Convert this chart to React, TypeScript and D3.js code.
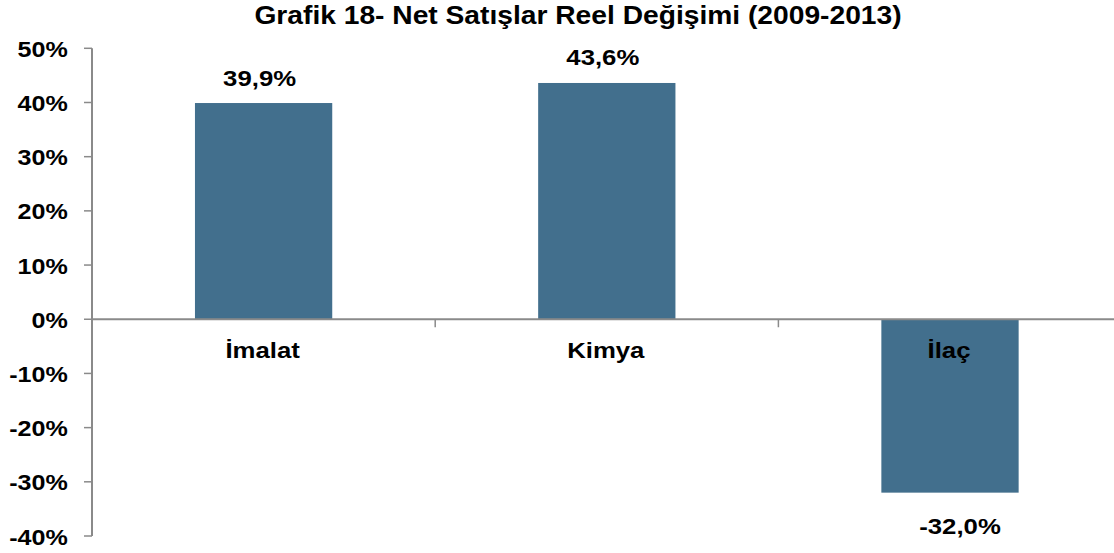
import React from "react";
import * as d3 from "d3";

const categories = ["İmalat", "Kimya", "İlaç"];
const values = [39.9, 43.6, -32.0];
const valueLabels = ["39,9%", "43,6%", "-32,0%"];
const yTicks = [50, 40, 30, 20, 10, 0, -10, -20, -30, -40];
const title = "Grafik 18- Net Satışlar Reel Değişimi (2009-2013)";

const W = 1114;
const H = 553;
const FONT = "'Liberation Sans', Arial, sans-serif";
const BAR = "#426f8d";
const AXIS = "#8a8a8a";

export default function App() {
  const x = d3.scaleBand<string>().domain(categories).range([92, 1121.6]).padding(0);
  const y = d3.scaleLinear().domain([-40, 50]).range([536, 48.3]);
  const bw = x.bandwidth();
  const y0 = y(0);

  return (
    <svg
      width={W}
      height={H}
      style={{ position: "absolute", left: 0, top: 0, background: "#fff" }}
      fontFamily={FONT}
      fontWeight="bold"
    >
      <rect x={0} y={0} width={W} height={H} fill="#fff" />
      <text
        transform={`translate(578,24) scale(1.085,1)`}
        textAnchor="middle"
        fontSize={26}
        fill="#000"
      >
        {title}
      </text>

      {/* bars */}
      {categories.map((c, i) => {
        const v = values[i];
        const bx = (x(c) as number) + bw * 0.3;
        const top = Math.min(y(v), y0);
        const h = Math.abs(y(v) - y0);
        return <rect key={c} x={bx} y={top} width={bw * 0.4} height={h} fill={BAR} />;
      })}

      {/* y axis */}
      <line x1={92} x2={92} y1={y(50)} y2={y(-40)} stroke={AXIS} strokeWidth={2} />
      {yTicks.map((t) => (
        <g key={t}>
          <line x1={84} x2={92} y1={y(t)} y2={y(t)} stroke={AXIS} strokeWidth={1.5} />
          <text
            transform={`translate(67.7,${y(t) + 8.6}) scale(1.14,1)`}
            textAnchor="end"
            fontSize={22}
            fill="#000"
          >
            {`${t}%`}
          </text>
        </g>
      ))}

      {/* x axis */}
      <line x1={92} x2={W} y1={y0} y2={y0} stroke={AXIS} strokeWidth={2} />
      {categories.slice(1).map((c) => (
        <line key={c} x1={x(c) as number} x2={x(c) as number} y1={y0} y2={y0 + 8} stroke={AXIS} strokeWidth={1.5} />
      ))}

      {/* category labels */}
      {categories.map((c) => (
        <text
          key={c}
          transform={`translate(${(x(c) as number) + bw / 2 - 1},358) scale(1.12,1)`}
          textAnchor="middle"
          fontSize={23}
          fill="#000"
        >
          {c}
        </text>
      ))}

      {/* value labels */}
      {categories.map((c, i) => {
        const v = values[i];
        const cx = (x(c) as number) + bw / 2 + (v >= 0 ? -4 : 10);
        const ty = v >= 0 ? y(v) - 17.5 : y(v) + 41.5;
        return (
          <text
            key={c}
            transform={`translate(${cx},${ty}) scale(1.12,1)`}
            textAnchor="middle"
            fontSize={23}
            fill="#000"
          >
            {valueLabels[i]}
          </text>
        );
      })}
    </svg>
  );
}
